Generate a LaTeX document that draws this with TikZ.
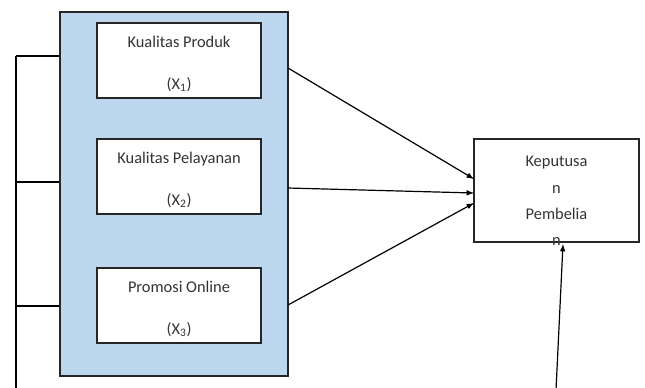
\documentclass[tikz,border=0pt]{standalone}
\usepackage{fontspec}
\setmainfont{Carlito}
\usetikzlibrary{positioning}

\definecolor{varblue}{HTML}{BDD7EE}
\definecolor{txtgray}{HTML}{333333}
\tikzstyle{grpbox} = [rectangle, minimum width=171pt, minimum height=273pt, draw=black!85, fill=varblue, line width=0.9pt]
\tikzstyle{varbox} = [rectangle, minimum width=123pt, minimum height=56.25pt, draw=black!85, fill=white, align=center, line width=0.9pt, text=txtgray, font=\fontsize{12.3}{15}\selectfont]
\tikzstyle{decbox} = [rectangle, minimum width=123.75pt, minimum height=77.25pt, draw=black!85, line width=0.9pt]
\tikzstyle{declbl} = [align=center, text=txtgray, font=\fontsize{12.3}{19.8}\selectfont]
\tikzstyle{line} = [line width=0.9pt]
\tikzstyle{arrow} = [line width=0.9pt,->,>=latex]

\begin{document}
\begin{tikzpicture}[x=0.75pt,y=-0.75pt]
\useasboundingbox (0,0) rectangle (645,387);
% Variabel bebas
\node (grp) [grpbox] at (174,194) {};
\node (x1) [varbox] at (179,60.5) {};
\node (x2) [varbox] at (179,176.5) {};
\node (x3) [varbox] at (179,305.5) {};
\node (x1lbl) [varbox, draw=none, fill=none] at (179,64) {Kualitas Produk\\[16.5pt](X\textsubscript{1})};
\node (x2lbl) [varbox, draw=none, fill=none] at (179,180) {Kualitas Pelayanan\\[16.5pt](X\textsubscript{2})};
\node (x3lbl) [varbox, draw=none, fill=none] at (179,309) {Promosi Online\\[16.5pt](X\textsubscript{3})};

% Variabel terikat
\node (kep) [decbox] at (556.5,190.5) {};
\node (keplbl) [declbl] at (556.5,201) {Keputusa\\n\\Pembelia\\n};

% Garis kiri
\coordinate (lt) at (16,56);
\coordinate (lm) at (16,182);
\coordinate (lb) at (16,306);
\coordinate (lend) at (16,390);
\draw [line] (lt) -- (lend);
\draw [line] (lt) -- (lt -| grp.west);
\draw [line] (lm) -- (lm -| grp.west);
\draw [line] (lb) -- (lb -| grp.west);

% Panah
\coordinate (a1) at (288,68);
\coordinate (a2) at (288,188);
\coordinate (a3) at (288,305);
\coordinate (e1) at (474,179);
\coordinate (e2) at (474,193);
\coordinate (e3) at (474,203);
\draw [arrow] (a1) -- (e1);
\draw [arrow] (a2) -- (e2);
\draw [arrow] (a3) -- (e3);

\coordinate (b0) at (556,390);
\coordinate (b1) at (563,244);
\draw [arrow] (b0) -- (b1);
\end{tikzpicture}
\end{document}
